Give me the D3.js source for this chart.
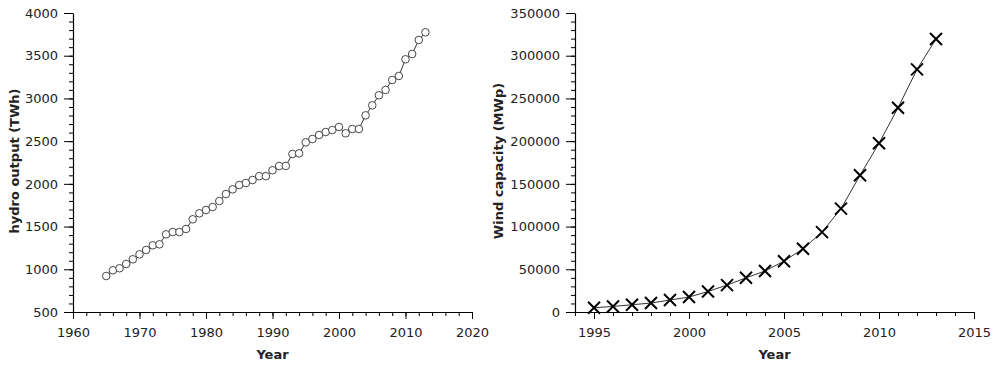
<html>
<head>
<meta charset="utf-8">
<title>Hydro output and wind capacity</title>
<style>
  body { margin: 0; background: #fff; }
  text { font-family: "DejaVu Sans", sans-serif; fill: #222; }
</style>
</head>
<body>
<div id="chart"></div>
<script src="https://cdn.jsdelivr.net/npm/d3@7"></script>
<script>
// hydro output, TWh
var hydroYears = [1965,1966,1967,1968,1969,1970,1971,1972,1973,1974,1975,1976,1977,1978,1979,
  1980,1981,1982,1983,1984,1985,1986,1987,1988,1989,1990,1991,1992,1993,1994,1995,1996,1997,
  1998,1999,2000,2001,2002,2003,2004,2005,2006,2007,2008,2009,2010,2011,2012,2013];
var hydroValues = [921,988,1012,1062,1117,1175,1226,1281,1292,1409,1436,1436,1472,1585,1655,
  1694,1729,1799,1881,1936,1987,2010,2045,2090,2090,2159,2209,2210,2350,2357,2486,2525,2572,
  2607,2630,2666,2592,2642,2642,2802,2919,3037,3099,3216,3263,3458,3520,3684,3774];

// wind capacity, MWp
var windYears = [1995,1996,1997,1998,1999,2000,2001,2002,2003,2004,2005,2006,2007,2008,2009,2010,2011,2012,2013];
var windValues = [5000,6500,8500,10500,14000,17500,24000,31500,40000,48000,59500,74000,93500,121000,160000,197500,239000,284000,319500];

var hydroXTicks = [1960,1970,1980,1990,2000,2010,2020];
var hydroYTicks = [500,1000,1500,2000,2500,3000,3500,4000];
var windXTicks = [1995,2000,2005,2010,2015];
var windYTicks = [0,50000,100000,150000,200000,250000,300000,350000];

var W = 997, H = 373;
var svg = d3.select("#chart").append("svg")
  .attr("width", W).attr("height", H);

function panel(opt) {
  var x = d3.scaleLinear().domain(opt.xDomain).range([opt.left, opt.right]);
  var y = d3.scaleLinear().domain(opt.yDomain).range([312, 13]);
  var g = svg.append("g");

  // minor ticks
  var xMinor = d3.range(opt.xDomain[0], opt.xDomain[1] + 0.001, opt.xMinor);
  var yMinor = d3.range(opt.yDomain[0], opt.yDomain[1] + 0.001, opt.yMinor);
  g.append("g").attr("transform", "translate(0,312)")
    .call(d3.axisBottom(x).tickValues(xMinor).tickSize(4).tickFormat(""))
    .call(function(s){ s.select(".domain").remove(); });
  g.append("g").attr("transform", "translate(" + opt.left + ",0)")
    .call(d3.axisLeft(y).tickValues(yMinor).tickSize(4).tickFormat(""))
    .call(function(s){ s.select(".domain").remove(); });

  // major ticks
  g.append("g").attr("transform", "translate(0,312)")
    .call(d3.axisBottom(x).tickValues(opt.xTicks).tickSize(7).tickSizeOuter(0).tickPadding(9).tickFormat(d3.format("d")));
  g.append("g").attr("transform", "translate(" + opt.left + ",0)")
    .call(d3.axisLeft(y).tickValues(opt.yTicks).tickSize(9).tickSizeOuter(0).tickPadding(6).tickFormat(d3.format("d")));
  g.selectAll(".tick line").attr("stroke", "#000");
  g.selectAll(".domain").attr("stroke", "#000").attr("stroke-width", 1.2);
  g.selectAll(".tick text").attr("font-size", 13).attr("font-family", "DejaVu Sans").attr("fill", "#222");

  g.append("text")
    .attr("x", (opt.left + opt.right) / 2).attr("y", 359)
    .attr("text-anchor", "middle").attr("font-size", 13).attr("font-weight", "bold")
    .text("Year");
  g.append("text")
    .attr("transform", "translate(" + opt.ylabelX + "," + 161 + ") rotate(-90)")
    .attr("text-anchor", "middle").attr("font-size", 13).attr("font-weight", "bold")
    .text(opt.ylabel);

  var pts = opt.xs.map(function(d, i){ return [d, opt.ys[i]]; });
  g.append("path")
    .datum(pts)
    .attr("fill", "none").attr("stroke", "#000").attr("stroke-width", 0.8)
    .attr("d", d3.line().x(function(d){ return x(d[0]); }).y(function(d){ return y(d[1]); }));
  return {g: g, x: x, y: y, pts: pts};
}

var left = panel({
  xDomain: [1960, 2020], yDomain: [500, 4000], left: 73, right: 472,
  xMinor: 2, yMinor: 100, xTicks: hydroXTicks, yTicks: hydroYTicks,
  xs: hydroYears, ys: hydroValues, ylabel: "hydro output (TWh)", ylabelX: 19
});
left.g.selectAll("circle.pt")
  .data(left.pts).enter().append("circle")
  .attr("class", "pt")
  .attr("cx", function(d){ return left.x(d[0]); })
  .attr("cy", function(d){ return left.y(d[1]); })
  .attr("r", 3.8)
  .attr("fill", "#fff").attr("stroke", "#333").attr("stroke-width", 0.9);

var right = panel({
  xDomain: [1994, 2015], yDomain: [0, 350000], left: 575, right: 974,
  xMinor: 1, yMinor: 10000, xTicks: windXTicks, yTicks: windYTicks,
  xs: windYears, ys: windValues, ylabel: "Wind capacity (MWp)", ylabelX: 503
});
right.g.selectAll("path.pt")
  .data(right.pts).enter().append("path")
  .attr("class", "pt")
  .attr("transform", function(d){ return "translate(" + right.x(d[0]) + "," + right.y(d[1]) + ")"; })
  .attr("d", "M-6,-6L6,6M-6,6L6,-6")
  .attr("fill", "none").attr("stroke", "#000").attr("stroke-width", 2);
</script>
</body>
</html>
